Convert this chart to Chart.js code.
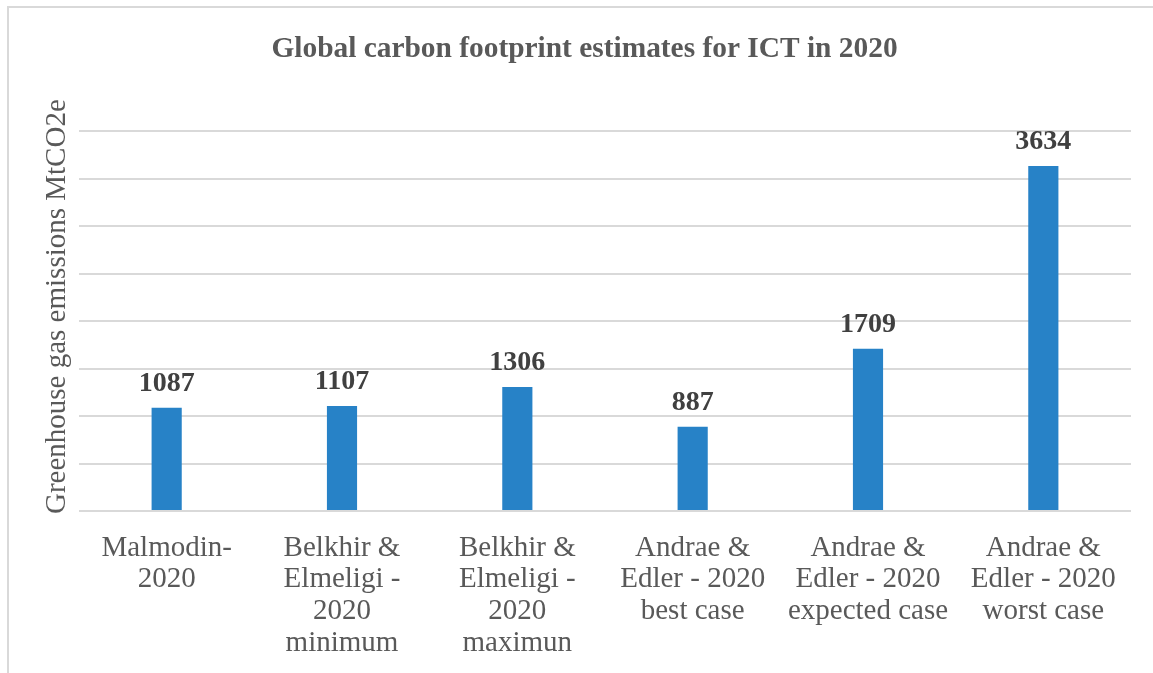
<!DOCTYPE html>
<html>
<head>
<meta charset="utf-8">
<script src="https://cdn.jsdelivr.net/npm/chart.js@4/dist/chart.umd.min.js"></script>
<style>
  html, body { margin: 0; padding: 0; background: #fff; overflow: hidden; }
  #wrap { position: relative; width: 1153px; height: 673px; }
  #frame {
    position: absolute; left: 7px; top: 6px; right: -10px; bottom: -10px;
    border-left: 2px solid #d9d9d9; border-top: 2px solid #d9d9d9;
  }
  #chart { position: absolute; left: 0; top: 0; }
</style>
</head>
<body>
<div id="wrap">
  <div id="frame"></div>
  <canvas id="chart" width="1153" height="673"></canvas>
</div>
<script>
const serif = '"Liberation Serif", "Times New Roman", serif';

const categories = [
    ['Malmodin-', '2020'],
    ['Belkhir &', 'Elmeligi -', '2020', 'minimum'],
    ['Belkhir &', 'Elmeligi -', '2020', 'maximun'],
    ['Andrae &', 'Edler - 2020', 'best case'],
    ['Andrae &', 'Edler - 2020', 'expected case'],
    ['Andrae &', 'Edler - 2020', 'worst case']
];
const emissions = [1087, 1107, 1306, 887, 1709, 3634];
const yMax = 4000;
const yStep = 500;

// draws the bold value above each bar
const valueLabels = {
    id: 'valueLabels',
    afterDatasetsDraw(chart) {
        const ctx = chart.ctx;
        const meta = chart.getDatasetMeta(0);
        ctx.save();
        ctx.font = 'bold 28px ' + serif;
        ctx.fillStyle = '#404040';
        ctx.textAlign = 'center';
        ctx.textBaseline = 'alphabetic';
        meta.data.forEach((bar, i) => {
            ctx.fillText(String(emissions[i]), bar.x, bar.y - 17);
        });
        ctx.restore();
    }
};

new Chart(document.getElementById('chart').getContext('2d'), {
    type: 'bar',
    data: {
        labels: categories,
        datasets: [{
            data: emissions,
            backgroundColor: '#2782c7',
            borderWidth: 0,
            barPercentage: 0.172,
            categoryPercentage: 1
        }]
    },
    options: {
        responsive: false,
        animation: false,
        events: [],
        layout: { padding: { left: 38, right: 22, top: 0, bottom: 0 } },
        plugins: {
            legend: { display: false },
            tooltip: { enabled: false },
            title: {
                display: true,
                text: 'Global carbon footprint estimates for ICT in 2020',
                color: '#595959',
                font: { family: serif, size: 29.4, weight: 'bold', lineHeight: 1.2 },
                padding: { top: 32, bottom: 64 }
            }
        },
        scales: {
            x: {
                grid: { display: false, drawTicks: false },
                border: { display: false },
                ticks: {
                    color: '#595959',
                    font: { family: serif, size: 29, lineHeight: 1.1 },
                    padding: 21,
                    maxRotation: 0,
                    autoSkip: false
                },
                afterFit(scale) { scale.height = 162; }
            },
            y: {
                min: 0,
                max: yMax,
                ticks: { display: false, stepSize: yStep },
                grid: { color: '#d9d9d9', lineWidth: 2, drawTicks: false },
                border: { display: false },
                title: {
                    display: true,
                    text: '\u2002\u2002Greenhouse gas emissions MtCO2e',
                    color: '#595959',
                    font: { family: serif, size: 29, lineHeight: 1.2 },
                    padding: { top: 2, bottom: 0 }
                },
                afterFit(scale) { scale.width = 41; }
            }
        }
    },
    plugins: [valueLabels]
});
</script>
</body>
</html>
